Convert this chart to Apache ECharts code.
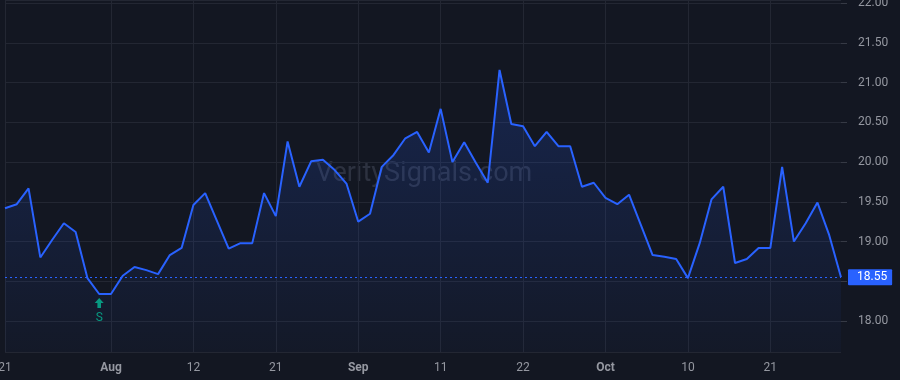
<!DOCTYPE html>
<html>
<head>
<meta charset="utf-8">
<script src="https://cdn.jsdelivr.net/npm/echarts@6/dist/echarts.min.js"></script>
<style>
html,body{margin:0;padding:0;background:#131722;}
#chart{width:900px;height:380px;}
</style>
</head>
<body>
<div id="chart"></div>
<script>
const dates = [
'2025-07-21','2025-07-22','2025-07-23','2025-07-24','2025-07-25','2025-07-28','2025-07-29','2025-07-30','2025-07-31',
'2025-08-01','2025-08-04','2025-08-05','2025-08-06','2025-08-07','2025-08-08','2025-08-11','2025-08-12','2025-08-13','2025-08-14','2025-08-15','2025-08-18','2025-08-19','2025-08-20','2025-08-21','2025-08-22','2025-08-25','2025-08-26','2025-08-27','2025-08-28','2025-08-29',
'2025-09-02','2025-09-03','2025-09-04','2025-09-05','2025-09-08','2025-09-09','2025-09-10','2025-09-11','2025-09-12','2025-09-15','2025-09-16','2025-09-17','2025-09-18','2025-09-19','2025-09-22','2025-09-23','2025-09-24','2025-09-25','2025-09-26','2025-09-29','2025-09-30',
'2025-10-01','2025-10-02','2025-10-03','2025-10-06','2025-10-07','2025-10-08','2025-10-09','2025-10-10','2025-10-13','2025-10-14','2025-10-15','2025-10-16','2025-10-17','2025-10-20','2025-10-21','2025-10-22','2025-10-23','2025-10-24','2025-10-27','2025-10-28','2025-10-29'
];
const prices = [
19.42,19.47,19.67,18.80,19.02,19.23,19.12,18.54,18.34,
18.34,18.57,18.68,18.64,18.59,18.83,18.92,19.46,19.61,19.26,18.91,18.98,18.98,19.61,19.32,20.26,19.69,20.01,20.03,19.90,19.73,
19.25,19.35,19.94,20.09,20.30,20.38,20.12,20.67,20.00,20.25,19.99,19.74,21.16,20.48,20.45,20.20,20.38,20.20,20.20,19.69,19.74,
19.55,19.47,19.59,19.21,18.83,18.81,18.78,18.54,18.98,19.53,19.69,18.73,18.78,18.92,18.92,19.94,19.00,19.23,19.49,19.08,18.55
];
const tickDates = ['2025-07-21','2025-08-01','2025-08-12','2025-08-21','2025-09-02','2025-09-11','2025-09-22','2025-10-01','2025-10-10','2025-10-21'];
const tickLabels = ['21','Aug','12','21','Sep','11','22','Oct','10','21'];
const monthLabels = ['Aug','Sep','Oct'];
const signalDates = ['2025-07-31'];
const signalTypes = ['S'];
const lastPrice = 18.55;
const yMin = 17.61, yMax = 22.04;

const chart = echarts.init(document.getElementById('chart'));
const isTick = (idx, val) => tickDates.indexOf(val !== undefined ? val : dates[idx]) >= 0;

const signalPoints = signalDates.map((d, k) => ({
  coord: [d, prices[dates.indexOf(d)]],
  value: signalTypes[k]
}));

chart.setOption({
  backgroundColor: '#131722',
  animation: false,
  grid: {left: 5, right: 59, top: 0, bottom: 28, outerBoundsMode: 'none', containLabel: false},
  graphic: [{
    type: 'text', x: 424, y: 174, z: 0,
    style: {text: 'VeritySignals.com', fill: 'rgba(120,128,150,0.26)', fontSize: 27,
      fontFamily: 'Roboto, sans-serif', align: 'center', verticalAlign: 'middle'}
  }],
  xAxis: {
    type: 'category', data: dates, boundaryGap: false,
    axisLine: {show: false},
    axisTick: {show: false},
    splitLine: {show: true, interval: (i, v) => isTick(i, v), lineStyle: {color: '#232733', width: 1}},
    axisLabel: {
      interval: (i, v) => isTick(i, v), margin: 10, color: '#9598a1', fontSize: 12,
      fontFamily: 'Roboto, sans-serif',
      formatter: (v) => {
        const t = tickLabels[tickDates.indexOf(v)];
        return monthLabels.indexOf(t) >= 0 ? '{b|' + t + '}' : t;
      },
      rich: {b: {fontWeight: 'bold', color: '#9598a1', fontSize: 12, fontFamily: 'Roboto, sans-serif'}}
    }
  },
  yAxis: {
    type: 'value', position: 'right', min: yMin, max: yMax,
    minInterval: 0.5, maxInterval: 0.5, scale: true,
    axisLine: {show: false},
    axisTick: {show: true, length: 6, lineStyle: {color: '#363a45'}},
    splitLine: {show: true, lineStyle: {color: '#232733', width: 1}},
    axisLabel: {
      margin: 17, color: '#9598a1', fontSize: 12, fontFamily: 'Roboto, sans-serif',
      showMinLabel: false, showMaxLabel: false,
      formatter: (v) => v.toFixed(2)
    }
  },
  series: [{
    type: 'line', data: prices, symbol: 'none', smooth: false,
    lineStyle: {color: '#2962ff', width: 2},
    areaStyle: {
      origin: 'start',
      color: new echarts.graphic.LinearGradient(0, 0, 0, 1, [
        {offset: 0, color: 'rgba(41,98,255,0.28)'},
        {offset: 1, color: 'rgba(41,98,255,0.04)'}
      ])
    },
    markLine: {
      silent: true, symbol: 'none',
      data: [{yAxis: lastPrice}],
      lineStyle: {color: '#2962ff', type: [2, 3], width: 1},
      label: {
        position: 'end', distance: 7, formatter: () => lastPrice.toFixed(2),
        backgroundColor: '#2962ff', color: '#ffffff', fontSize: 12,
        fontFamily: 'Roboto, sans-serif', padding: [2, 5, 2, 9], borderRadius: 1
      }
    },
    markPoint: {
      silent: true,
      symbol: 'path://M5,0 L10,5 L7,5 L7,10 L3,10 L3,5 L0,5 Z',
      symbolSize: [9, 10], symbolOffset: [0, 9],
      itemStyle: {color: '#089981'},
      label: {show: true, position: 'bottom', distance: 4, color: '#089981', fontSize: 12,
        fontFamily: 'Roboto, sans-serif', formatter: (p) => p.value},
      data: signalPoints
    }
  }]
});
</script>
</body>
</html>
